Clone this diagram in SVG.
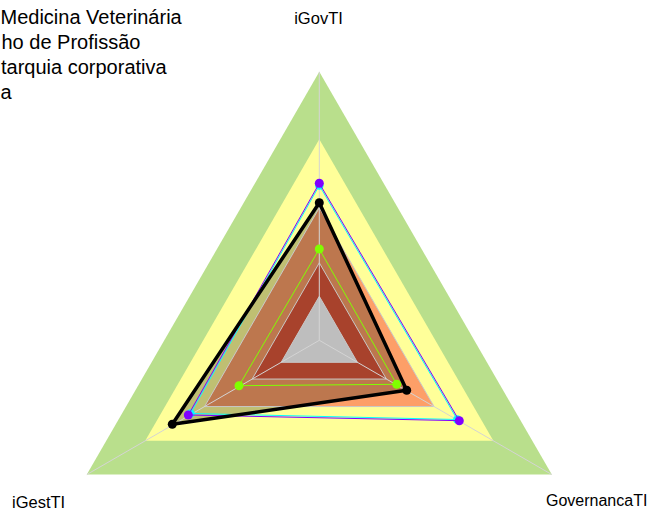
<svg xmlns="http://www.w3.org/2000/svg" width="650" height="511" viewBox="0 0 650 511">
<style>
.lbl{font-family:"Liberation Sans",Arial,sans-serif;font-size:16.5px;fill:#000}
.ttl{font-family:"Liberation Sans",Arial,sans-serif;font-size:20px;fill:#000}
.grid{fill:none;stroke:#C8C8C8;stroke-width:1}
.axis{stroke:#D4D4D4;stroke-width:1}
.s{fill:none;stroke-linejoin:round}
</style>
<rect width="650" height="511" fill="#FFFFFF"/>
<g id="title">
<text class="ttl" x="0.5" y="23.5">Medicina Veterinária</text>
<text class="ttl" x="1.5" y="48.5">ho de Profissão</text>
<text class="ttl" x="1" y="74">tarquia corporativa</text>
<text class="ttl" x="0.5" y="99">a</text>
</g>
<g id="bands">
<polygon points="319.3,71.8 551.8,474.55 86.8,474.55" fill="#B9DF8C"/>
<polygon points="319.3,139.3 493.37,440.8 145.23,440.8" fill="#FFFF99"/>
<polygon points="319.3,207.8 434.05,406.55 204.55,406.55" fill="#FD9F68"/>
<polygon points="319.3,202.7 406.7,390.3 172.3,424.3" fill="#000000" fill-opacity="0.25"/>
<polygon points="319.3,262.8 386.42,379.05 252.18,379.05" fill="#A8422C"/>
<polygon points="319.3,296.3 357.4,362.3 281.2,362.3" fill="#BEBEBE"/>
</g>
<g id="grid">
<polygon class="grid" points="319.3,207.8 434.05,406.55 204.55,406.55"/>
<polygon class="grid" points="319.3,262.8 386.42,379.05 252.18,379.05" stroke="#B09090"/>
<polygon class="grid" points="319.3,296.3 357.4,362.3 281.2,362.3"/>
<line class="axis" x1="319.3" y1="340.3" x2="319.3" y2="71.8"/>
<line class="axis" x1="319.3" y1="340.3" x2="551.8" y2="474.55"/>
<line class="axis" x1="319.3" y1="340.3" x2="86.8" y2="474.55"/>
</g>
<g id="series">
<g id="series-cyan">
<polygon class="s" points="319.3,185.5 457.3,419.5 190.5,413.5" stroke="#00FFFF" stroke-width="1"/>
<circle cx="319.3" cy="185.5" r="4.3" fill="#00FFFF"/>
<circle cx="457.3" cy="419.5" r="4.3" fill="#00FFFF"/>
<circle cx="190.5" cy="413.5" r="4.3" fill="#00FFFF"/>
</g>
<g id="series-purple">
<polygon class="s" points="319.3,183.3 459.3,420.7 188.3,415" stroke="#8000FF" stroke-width="1"/>
<circle cx="319.3" cy="183.3" r="4.5" fill="#8000FF"/>
<circle cx="459.3" cy="420.7" r="4.5" fill="#8000FF"/>
<circle cx="188.3" cy="415" r="4.5" fill="#8000FF"/>
</g>
<g id="series-green">
<polygon class="s" points="319.3,249 396.7,384.3 239,385.7" stroke="#80FF00" stroke-width="1"/>
<circle cx="319.3" cy="249" r="4.5" fill="#80FF00"/>
<circle cx="396.7" cy="384.3" r="4.5" fill="#80FF00"/>
<circle cx="239" cy="385.7" r="4.5" fill="#80FF00"/>
</g>
<g id="series-black">
<polygon class="s" points="319.3,202.7 406.7,390.3 172.3,424.3" stroke="#000000" stroke-width="3.5"/>
<circle cx="319.3" cy="202.7" r="4.5" fill="#000000"/>
<circle cx="406.7" cy="390.3" r="4.5" fill="#000000"/>
<circle cx="172.3" cy="424.3" r="4.5" fill="#000000"/>
</g>
</g>
<g id="labels">
<text class="lbl" id="lbl-igovti" x="318.5" y="24" text-anchor="middle">iGovTI</text>
<text class="lbl" id="lbl-igestti" x="12" y="508">iGestTI</text>
<text class="lbl" id="lbl-governancati" x="546" y="506" style="font-size:16px">GovernancaTI</text>
</g>
</svg>
